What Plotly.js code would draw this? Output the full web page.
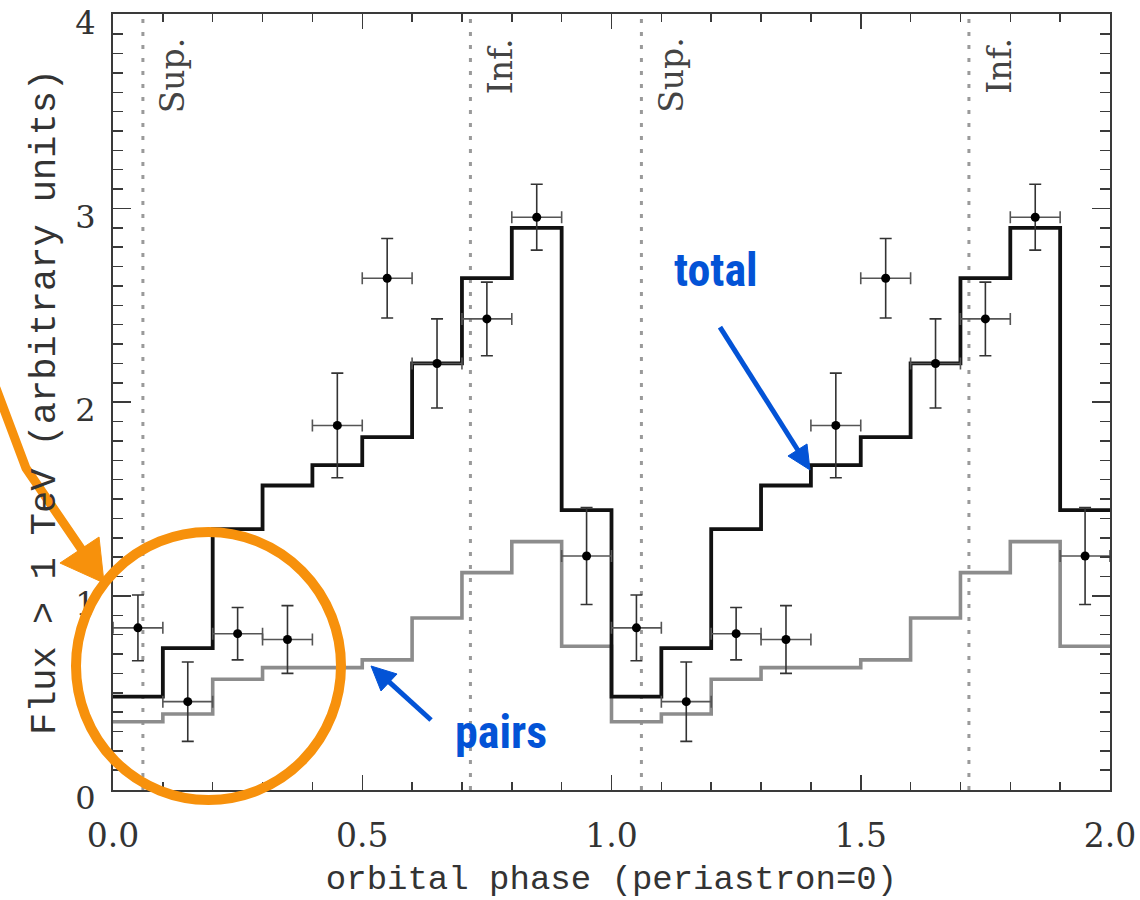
<!DOCTYPE html>
<html><head><meta charset="utf-8">
<script src="https://cdn.plot.ly/plotly-3.0.1.min.js"></script>
<style>html,body{margin:0;padding:0;background:#fff}#chart{width:1140px;height:900px}</style>
</head><body><div id="chart"></div>
<script>
// ---- data (one orbit, shown twice) ----
const binStart   = [0.0, 0.1, 0.2, 0.3, 0.4, 0.5, 0.6, 0.7, 0.8, 0.9];
const totalFlux  = [0.48, 0.73, 1.345, 1.57, 1.675, 1.82, 2.20, 2.64, 2.90, 1.443];
const pairsFlux  = [0.35, 0.39, 0.57, 0.63, 0.63, 0.67, 0.886, 1.12, 1.28, 0.74];
const pointPhase = [0.05, 0.15, 0.25, 0.35, 0.45, 0.55, 0.65, 0.75, 0.85, 0.95];
const pointFlux  = [0.835, 0.454, 0.805, 0.775, 1.88, 2.64, 2.20, 2.43, 2.955, 1.206];
const pointErr   = [0.17, 0.205, 0.135, 0.175, 0.27, 0.205, 0.23, 0.19, 0.17, 0.25];
const phaseErr   = [0.05, 0.05, 0.05, 0.05, 0.05, 0.05, 0.05, 0.05, 0.05, 0.05];
const orbits     = [0, 1];
const conjPhase  = [0.06, 0.717, 1.06, 1.717];
const conjLabel  = ['Sup.', 'Inf.', 'Sup.', 'Inf.'];
const xTickVals  = [0, 0.5, 1.0, 1.5, 2.0];
const xTickText  = ['0.0', '0.5', '1.0', '1.5', '2.0'];
const yTickVals  = [0, 1, 2, 3, 4];
const yTickText  = ['0', '1', '2', '3', '4'];

// ---- fold over two orbits ----
function fold(xs) { return orbits.flatMap(k => xs.map(v => +(v + k).toFixed(4))); }
function rep(ys) { return orbits.flatMap(() => ys); }
const stepX = fold(binStart); stepX.push(orbits.length);
const totalY = rep(totalFlux); totalY.push(totalFlux[totalFlux.length - 1]);
const pairsY = rep(pairsFlux); pairsY.push(pairsFlux[pairsFlux.length - 1]);

const serif = 'DejaVu Serif, Liberation Serif, serif';
const mono = 'Liberation Mono, DejaVu Sans Mono, monospace';
const blueFont = 'Liberation Sans Narrow, Roboto Condensed, DejaVu Sans Condensed, Roboto, sans-serif';
const ORANGE = '#F7910C', BLUE = '#0353D6';

// pixel -> paper helpers for the hand-drawn overlay
const L = 113, R = 30, T = 14, B = 110, W = 1140, H = 900;
const PW = W - L - R, PH = H - T - B;
const px = x => (x - L) / PW, py = y => (H - B - y) / PH;
function path(pts, close) {
  return pts.map((p, i) => (i ? 'L' : 'M') + px(p[0]).toFixed(4) + ',' + py(p[1]).toFixed(4)).join(' ') + (close ? ' Z' : '');
}

const traces = [
  { x: stepX, y: pairsY, mode: 'lines', line: { shape: 'hv', color: '#8c8c8c', width: 3.6 }, name: 'pairs', hoverinfo: 'skip' },
  { x: stepX, y: totalY, mode: 'lines', line: { shape: 'hv', color: '#111', width: 3.8 }, name: 'total', hoverinfo: 'skip' },
  { x: fold(pointPhase), y: rep(pointFlux), mode: 'markers', name: 'data',
    marker: { color: '#000', size: 9 },
    error_y: { type: 'data', array: rep(pointErr), color: '#333', thickness: 1.6, width: 6 },
    error_x: { type: 'data', array: rep(phaseErr), color: '#555', thickness: 1.6, width: 6 } }
];

const shapes = conjPhase.map(p => ({
  type: 'line', xref: 'x', yref: 'paper', x0: p, x1: p, y0: 0, y1: 1, layer: 'below',
  line: { color: '#9a9a9a', width: 3, dash: '4px,9px' }
}));
// orange circle + arrow
shapes.push({ type: 'circle', xref: 'paper', yref: 'paper', x0: px(76), x1: px(341), y0: py(800), y1: py(532),
  line: { color: ORANGE, width: 10 }, layer: 'above' });
shapes.push({ type: 'path', xref: 'paper', yref: 'paper', path: path([[-4, 388], [26, 468], [84, 553]]),
  line: { color: ORANGE, width: 9 }, layer: 'above' });
shapes.push({ type: 'path', xref: 'paper', yref: 'paper', path: path([[104, 583], [60, 563], [99, 537]], true),
  fillcolor: ORANGE, line: { color: ORANGE, width: 1 }, layer: 'above' });
// blue arrows
shapes.push({ type: 'path', xref: 'paper', yref: 'paper', path: path([[720, 327], [799, 452]]),
  line: { color: BLUE, width: 5 }, layer: 'above' });
shapes.push({ type: 'path', xref: 'paper', yref: 'paper', path: path([[810, 470], [788, 456], [807, 444]], true),
  fillcolor: BLUE, line: { color: BLUE, width: 1 }, layer: 'above' });
shapes.push({ type: 'path', xref: 'paper', yref: 'paper', path: path([[431, 720], [388, 681]]),
  line: { color: BLUE, width: 5 }, layer: 'above' });
shapes.push({ type: 'path', xref: 'paper', yref: 'paper', path: path([[371, 666], [381, 691], [397, 674]], true),
  fillcolor: BLUE, line: { color: BLUE, width: 1 }, layer: 'above' });

const annotations = conjPhase.map((p, i) => ({
  x: p + 0.06, xref: 'x', y: py(36), yref: 'paper', text: conjLabel[i], showarrow: false,
  textangle: -90, xanchor: 'center', yanchor: 'top', font: { family: serif, size: 33, color: '#444' }
}));
annotations.push({ x: px(716), y: py(270), xref: 'paper', yref: 'paper', text: '<b>total</b>', showarrow: false,
  xanchor: 'center', yanchor: 'middle', font: { family: blueFont, size: 46, color: BLUE } });
annotations.push({ x: px(501), y: py(732), xref: 'paper', yref: 'paper', text: '<b>pairs</b>', showarrow: false,
  xanchor: 'center', yanchor: 'middle', font: { family: blueFont, size: 46, color: BLUE } });

const axisCommon = {
  showgrid: false, zeroline: false, showline: true, linecolor: '#3a3a3a', linewidth: 2, mirror: 'allticks',
  ticks: 'inside', tickcolor: '#3a3a3a', tickwidth: 1.5, ticklabeloverflow: 'allow'
};

const layout = {
  width: W, height: H, margin: { l: L, r: R, t: T, b: B },
  paper_bgcolor: '#fff', plot_bgcolor: '#fff', showlegend: false,
  xaxis: Object.assign({}, axisCommon, {
    range: [0, 2], tickvals: xTickVals, ticktext: xTickText, ticklen: 15, ticklabelstandoff: 15,
    tickfont: { family: serif, size: 33, color: '#333' },
    minor: { dtick: 0.1, ticks: 'inside', ticklen: 8, tickcolor: '#3a3a3a', tickwidth: 1.5, showgrid: false },
    title: { text: 'orbital phase (periastron=0)', font: { family: mono, size: 34, color: '#333' }, standoff: 12 }
  }),
  yaxis: Object.assign({}, axisCommon, {
    range: [-0.002, 4.004], tickvals: yTickVals, ticktext: yTickText, ticklen: 18, ticklabelstandoff: 9,
    ticklabelshift: 8, tickfont: { family: serif, size: 32, color: '#333' },
    minor: { dtick: 0.1, ticks: 'inside', ticklen: 10, tickcolor: '#3a3a3a', tickwidth: 1.5, showgrid: false },
    title: { text: 'Flux > 1 TeV (arbitrary units)', font: { family: mono, size: 37, color: '#333' }, standoff: 8 }
  }),
  shapes: shapes, annotations: annotations
};

Plotly.newPlot('chart', traces, layout, { staticPlot: true, displayModeBar: false });
</script></body></html>
